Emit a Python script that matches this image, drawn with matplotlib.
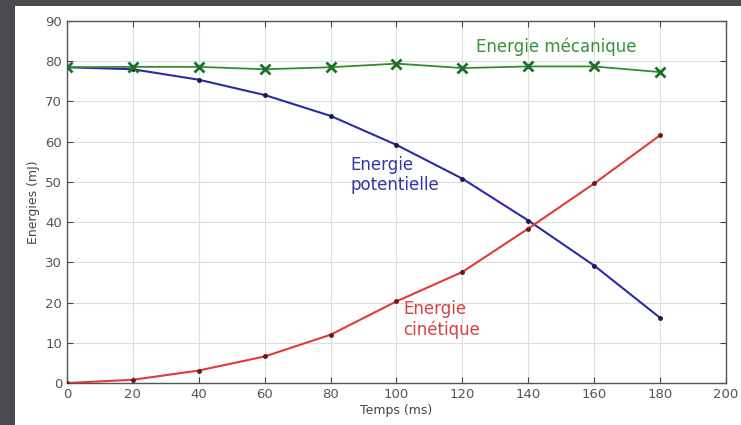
import matplotlib
matplotlib.use("Agg")
import matplotlib.pyplot as plt
from matplotlib.patches import Rectangle

# data
temps = [0, 20, 40, 60, 80, 100, 120, 140, 160, 180]
e_meca = [78.5, 78.6, 78.6, 78.0, 78.5, 79.4, 78.3, 78.7, 78.7, 77.3]
e_pot = [78.5, 78.0, 75.4, 71.6, 66.4, 59.2, 50.8, 40.4, 29.2, 16.2]
e_cin = [0.0, 0.8, 3.1, 6.6, 12.0, 20.3, 27.6, 38.4, 49.6, 61.6]

xticks = [0, 20, 40, 60, 80, 100, 120, 140, 160, 180, 200]
yticks = [0, 10, 20, 30, 40, 50, 60, 70, 80, 90]

fig = plt.figure(figsize=(7.41, 4.25), dpi=100, facecolor="#4b4a50")
# white panel behind the chart
fig.add_artist(Rectangle((15 / 741, 0), 1 - 15 / 741, 1 - 6 / 425,
                         transform=fig.transFigure, facecolor="white",
                         edgecolor="none", zorder=-10))

ax = fig.add_axes([67 / 741, 1 - 383 / 425, (726 - 67) / 741, (383 - 21) / 425])
ax.set_zorder(1)
ax.set_facecolor("white")

ax.plot(temps, e_meca, color="#2f8f2f", lw=1.3, marker="x", ms=7, mew=2.0,
        mec="#1f6f2a", zorder=4)
ax.plot(temps, e_pot, color="#2b2ba8", lw=1.5, marker=".", ms=5,
        mfc="#1a1a50", mec="#1a1a50", zorder=3)
ax.plot(temps, e_cin, color="#e23a3a", lw=1.5, marker=".", ms=5,
        mfc="#6a1a1a", mec="#6a1a1a", zorder=3)

ax.text(124, 83.5, "Energie mécanique", color="#3a8f3a", fontsize=12,
        va="center", ha="left")
ax.text(86, 51.7, "Energie\npotentielle", color="#3535a8", fontsize=12,
        va="center", ha="left", linespacing=1.15)
ax.text(102, 15.8, "Energie\ncinétique", color="#d84040", fontsize=12,
        va="center", ha="left", linespacing=1.15)

ax.set_xlim(0, 200)
ax.set_ylim(0, 90)
ax.set_xticks(xticks)
ax.set_yticks(yticks)
ax.grid(True, color="#dddddd", lw=0.8)
ax.set_axisbelow(True)
ax.tick_params(direction="in", top=True, right=True, length=4,
               labelsize=9.5, labelcolor="#555555", color="#444444")
for s in ax.spines.values():
    s.set_color("#555555")
    s.set_linewidth(1.0)

ax.set_xlabel("Temps (ms)", fontsize=9, color="#444444", labelpad=2)
ax.set_ylabel("Energies (mJ)", fontsize=9, color="#444444", labelpad=4)

fig.savefig("out.png", dpi=100, facecolor=fig.get_facecolor())
